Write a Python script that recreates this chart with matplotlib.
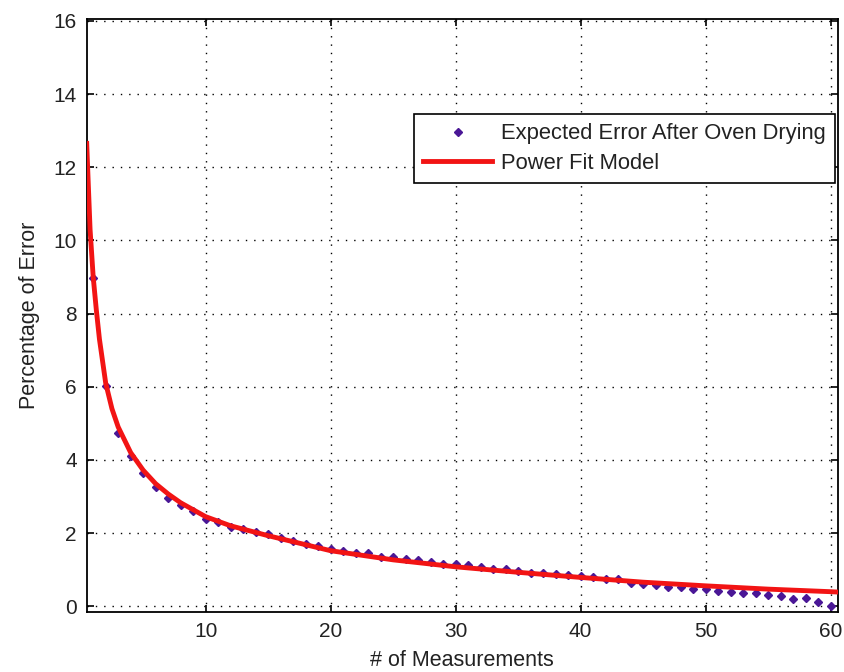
import matplotlib
matplotlib.use("Agg")
import matplotlib.pyplot as plt

plt.rcParams['font.family'] = ['Liberation Sans', 'DejaVu Sans']

# Measured expected error (%) after oven drying, one value per measurement count
measurements = list(range(1, 61))
expected_error = [
    8.96, 6.02, 4.74, 4.10, 3.65, 3.26, 2.97, 2.77, 2.60, 2.39,
    2.31, 2.18, 2.10, 2.02, 1.98, 1.86, 1.78, 1.70, 1.64, 1.57,
    1.50, 1.45, 1.46, 1.35, 1.34, 1.30, 1.27, 1.21, 1.17, 1.16,
    1.12, 1.08, 1.03, 1.01, 0.96, 0.92, 0.92, 0.88, 0.85, 0.84,
    0.79, 0.74, 0.74, 0.65, 0.61, 0.59, 0.54, 0.52, 0.48, 0.48,
    0.43, 0.39, 0.37, 0.36, 0.32, 0.28, 0.21, 0.23, 0.13, 0.00,
]

# Power fit model curve, sampled along the measurement axis
fit_x = [0.48, 0.6, 0.75, 1.0, 1.25, 1.5, 2.0, 2.5, 3.0, 4.0, 5.0, 6.0, 7.0,
         8.0, 10.0, 12.0, 15.0, 20.0, 25.0, 30.0, 35.0, 40.0, 45.0, 50.0,
         55.0, 60.0, 60.6]
fit_y = [12.65, 11.6, 10.3, 9.0, 8.1, 7.3, 6.1, 5.4, 4.9, 4.2, 3.72, 3.35, 3.07,
         2.83, 2.45, 2.2, 1.93, 1.52, 1.27, 1.08, 0.93, 0.79, 0.66, 0.56,
         0.47, 0.40, 0.39]

x_ticks = [10, 20, 30, 40, 50, 60]
y_ticks = [0, 2, 4, 6, 8, 10, 12, 14, 16]

W, H = 845, 672
fig = plt.figure(figsize=(W / 100, H / 100), dpi=100)
ax = fig.add_axes([86.7 / W, 1 - 612 / H, (838 - 86.7) / W, (612 - 19) / H])

ax.plot(measurements, expected_error, linestyle='none', marker='D',
        markersize=4.5, color='#4a1796', label='Expected Error After Oven Drying',
        zorder=3)
ax.plot(fit_x, fit_y, color='#f21414', linewidth=3.5,
        label='Power Fit Model', zorder=4, solid_joinstyle='round')

ax.set_xlim(0.48, 60.6)
ax.set_ylim(-0.155, 16.05)
ax.set_xticks(x_ticks)
ax.set_yticks(y_ticks)

ax.grid(True, color='black', linestyle=(0, (1, 5)), linewidth=1.0)
ax.set_axisbelow(True)

for side in ['left', 'right', 'top', 'bottom']:
    ax.spines[side].set_linewidth(1.3)
    ax.spines[side].set_color('black')

ax.tick_params(direction='in', length=5, width=1.2, top=True, right=True,
               labelsize=15, colors='black', labelcolor='#222222')
ax.tick_params(axis='y', pad=7)
ax.tick_params(axis='x', pad=7)

ax.set_xlabel('# of Measurements', fontsize=15.5, color='#222222', labelpad=7)
ax.set_ylabel('Percentage of Error', fontsize=15.5, color='#222222', labelpad=10)

leg = ax.legend(loc='upper left', bbox_to_anchor=(414 / W, 1 - 114 / H),
                bbox_transform=fig.transFigure, fontsize=15.8, frameon=True,
                fancybox=False, edgecolor='black', framealpha=1.0,
                borderpad=0.42, labelspacing=0.38, handlelength=3.15,
                handletextpad=0.4, borderaxespad=0.0, markerscale=1.0)
leg.get_frame().set_linewidth(1.2)
for t in leg.get_texts():
    t.set_color('#222222')

fig.savefig('out.png', dpi=100)
